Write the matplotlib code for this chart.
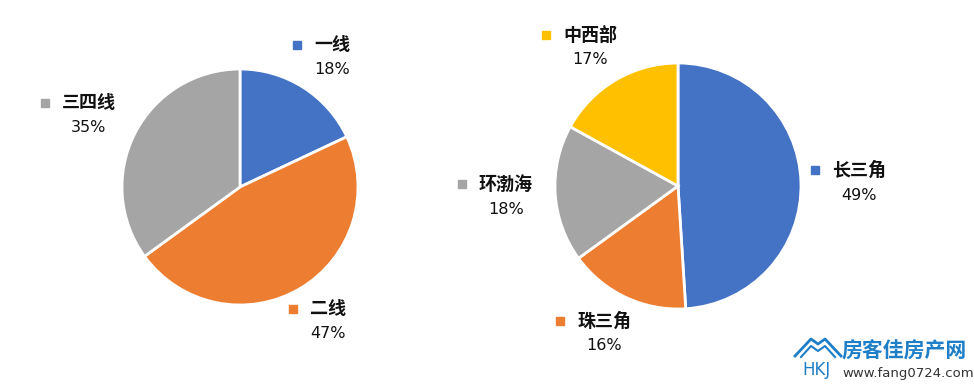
import matplotlib.pyplot as plt
from matplotlib.lines import Line2D

plt.rcParams['font.family'] = ['Noto Sans CJK SC', 'DejaVu Sans']

# left pie: city tiers
tier_names = ['一线', '二线', '三四线']
tier_share = [18, 47, 35]
tier_colors = ['#4472C4', '#ED7D31', '#A5A5A5']

# right pie: regions
region_names = ['长三角', '珠三角', '环渤海', '中西部']
region_share = [49, 16, 18, 17]
region_colors = ['#4472C4', '#ED7D31', '#A5A5A5', '#FFC000']

fig = plt.figure(figsize=(9.74, 3.84), dpi=100)
ax = fig.add_axes([0, 0, 1, 1])

wp = dict(edgecolor='white', linewidth=2)
ax.pie(tier_share, colors=tier_colors, startangle=90, counterclock=False,
       center=(240, 197), radius=118, wedgeprops=wp, frame=True)
ax.pie(region_share, colors=region_colors, startangle=90, counterclock=False,
       center=(678, 198), radius=123, wedgeprops=wp, frame=True)
ax.set_xlim(0, 974)
ax.set_ylim(0, 384)
ax.set_aspect('equal')
ax.axis('off')

# label positions (marker x, name y in pixels from top)
tier_pos = [(297, 45), (293, 309), (45, 103)]
region_pos = [(815, 170), (560, 321), (462, 184), (546, 35)]


def put_labels(names, shares, colors, positions):
    for name, share, col, (mx, ty) in zip(names, shares, colors, positions):
        y = 384 - ty
        ax.plot(mx, y, marker='s', color=col, markersize=6)
        t = ax.text(mx + 17, y, name, fontsize=13, fontweight='bold',
                    va='center', ha='left', color='#111111')
        ax.annotate(f'{share}%', xy=(0.5, 0.5), xycoords=t,
                    xytext=(0, -18), textcoords='offset points',
                    fontsize=11.5, va='center', ha='center', color='#111111',
                    family=['Liberation Sans Narrow', 'DejaVu Sans'])


put_labels(tier_names, tier_share, tier_colors, tier_pos)
put_labels(region_names, region_share, region_colors, region_pos)

# watermark
logo = '#1E7FC8'
ax.add_line(Line2D([795, 811, 818, 825, 841], [28, 45, 40, 45, 28],
                   color=logo, linewidth=2))
ax.add_line(Line2D([801, 811, 818, 825, 835], [27, 38, 33, 38, 27],
                   color=logo, linewidth=1.5))
ax.text(816, 5, 'HKJ', fontsize=12, color=logo,
        ha='center', va='bottom', family=['DejaVu Sans'])
ax.text(842, 384 - 351, '房客佳房产网', fontsize=15, fontweight='bold',
        color=logo, ha='left', va='center')
ax.text(842, 384 - 374, 'www.fang0724.com', fontsize=9.5,
        family=['DejaVu Sans'], color='#333333', ha='left', va='center')

fig.savefig('out.png', dpi=100)
